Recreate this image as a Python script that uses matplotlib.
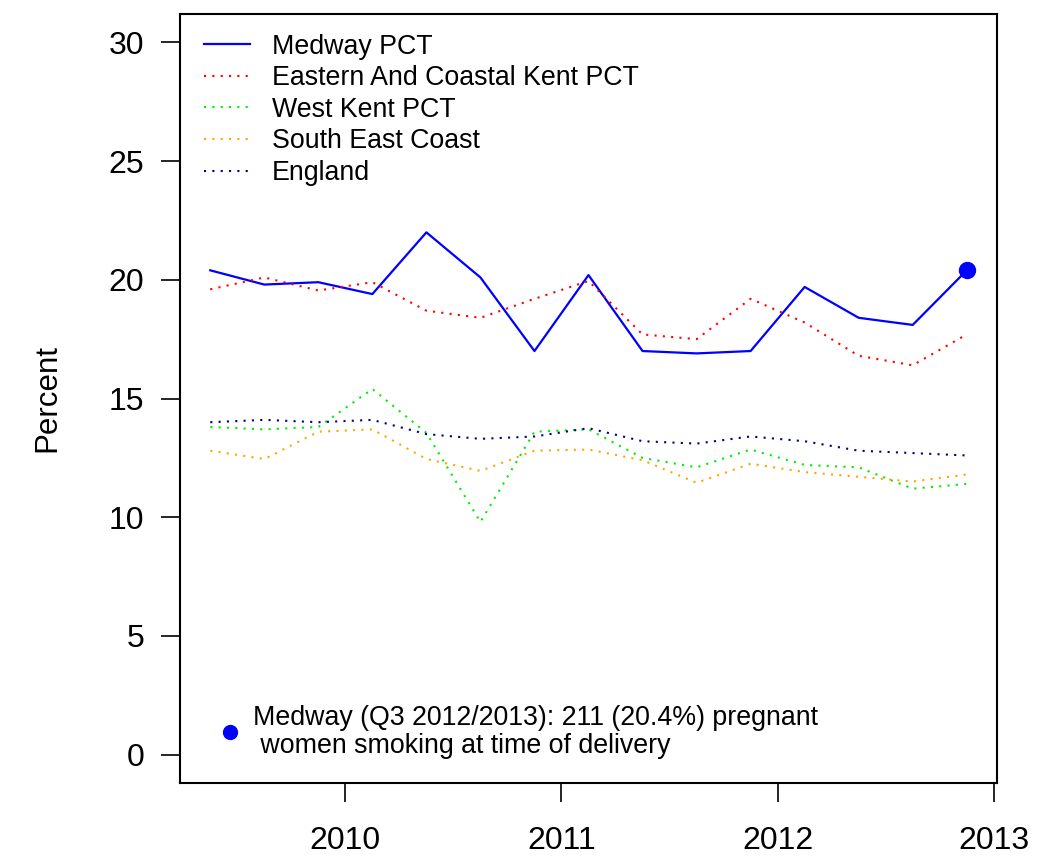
import numpy as np
import matplotlib.pyplot as plt
from matplotlib.lines import Line2D

plt.rcParams['font.family'] = ['Liberation Sans', 'DejaVu Sans']

# quarters (mid-quarter, decimal year), Q1 2009/10 .. Q3 2012/13
quarters = 2009.375 + 0.25 * np.arange(15)

medway = [20.4, 19.8, 19.9, 19.4, 22.0, 20.1, 17.0, 20.2, 17.0, 16.9, 17.0, 19.7, 18.4, 18.1, 20.4]
east_coastal_kent = [19.6, 20.1, 19.55, 19.9, 18.7, 18.4, 19.2, 19.95, 17.7, 17.5, 19.2, 18.2, 16.8, 16.4, 17.7]
west_kent = [13.8, 13.7, 13.8, 15.4, 13.55, 9.8, 13.6, 13.7, 12.5, 12.1, 12.85, 12.2, 12.1, 11.2, 11.4]
south_east_coast = [12.8, 12.45, 13.6, 13.7, 12.45, 11.95, 12.8, 12.85, 12.4, 11.45, 12.25, 11.9, 11.7, 11.5, 11.8]
england = [14.0, 14.1, 14.0, 14.1, 13.5, 13.3, 13.4, 13.75, 13.2, 13.1, 13.4, 13.2, 12.8, 12.7, 12.6]

year_ticks = [2010, 2011, 2012, 2013]
pct_ticks = [0, 5, 10, 15, 20, 25, 30]

fig = plt.figure(figsize=(10.44, 8.59), dpi=100)
ax = fig.add_axes([180 / 1044, 1 - 783 / 859, 817 / 1044, 769 / 859])

dot = dict(linestyle=(0, (1, 3)), linewidth=1.5)
ax.plot(quarters, medway, color='blue', linewidth=1.6, label='Medway PCT')
ax.plot(quarters, east_coastal_kent, color='red', label='Eastern And Coastal Kent PCT', **dot)
ax.plot(quarters, west_kent, color='#00ee00', label='West Kent PCT', **dot)
ax.plot(quarters, south_east_coast, color='orange', label='South East Coast', **dot)
ax.plot(quarters, england, color='navy', label='England', **dot)
ax.plot(quarters[-1:], medway[-1:], 'o', color='blue', markersize=11.5, zorder=5)

ax.set_xlim(2009.235, 2013.015)
ax.set_ylim(-1.2, 31.2)
ax.set_xticks(year_ticks)
ax.set_yticks(pct_ticks)
ax.tick_params(axis='both', direction='out', length=13.7, width=1.2, labelsize=23)
ax.tick_params(axis='y', pad=12)
ax.tick_params(axis='x', pad=17)
for s in ax.spines.values():
    s.set_linewidth(1.5)
ax.set_ylabel('Percent', fontsize=22.5, labelpad=33)

leg = ax.legend(loc='upper left', bbox_to_anchor=(0.0, 1.006), frameon=False, fontsize=19.3,
                handlelength=1.7, handletextpad=0.82, labelspacing=0.21)
ax.add_artist(leg)

note = Line2D([], [], color='blue', marker='o', linestyle='none', markersize=10)
leg2 = ax.legend([note], ['Medway (Q3 2012/2013): 211 (20.4%) pregnant\n women smoking at time of delivery'],
                 loc='lower left', bbox_to_anchor=(0.015, 0.0), frameon=False, fontsize=19.3,
                 handletextpad=0.35, handlelength=1.0)
leg2.get_texts()[0].set_linespacing(1.1)

fig.savefig('out.png', dpi=100)
